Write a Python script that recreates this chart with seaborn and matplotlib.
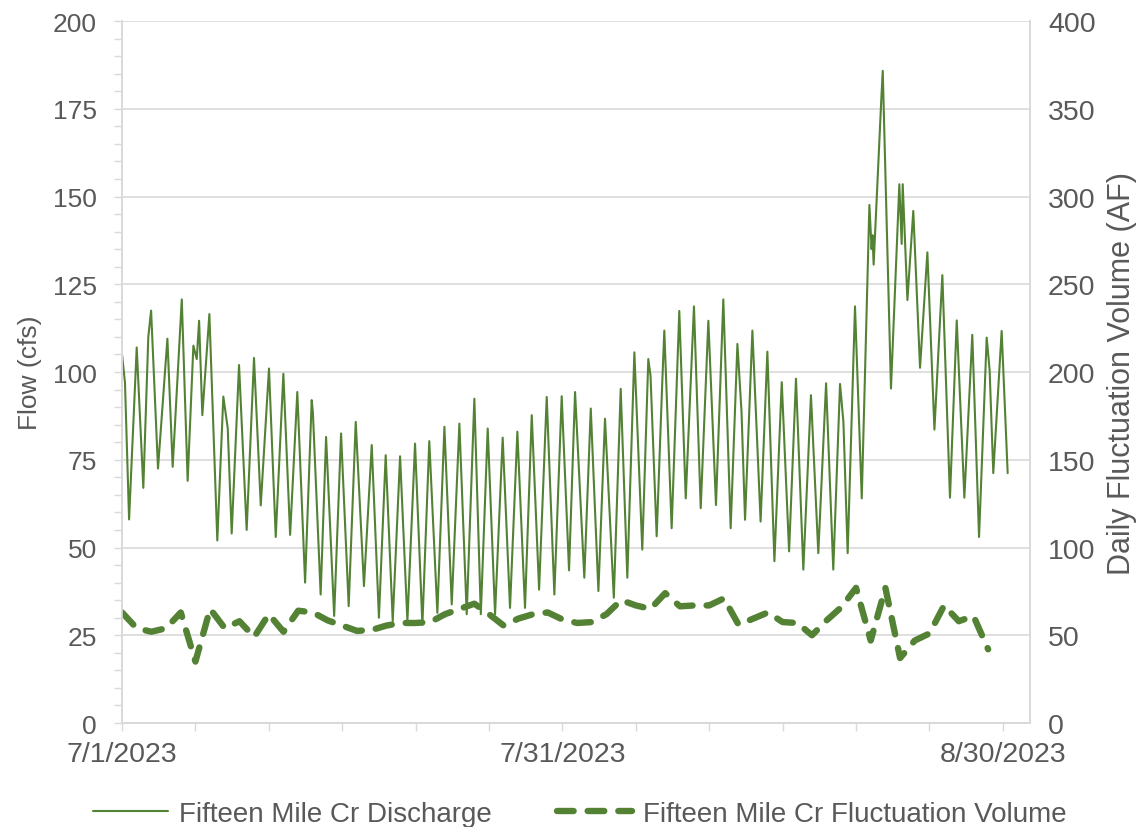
import matplotlib
matplotlib.use("Agg")
import matplotlib.pyplot as plt
import matplotlib.dates as mdates
from matplotlib.ticker import FixedLocator, MultipleLocator
import pandas as pd
import seaborn as sns

# Fifteen Mile Creek discharge: daily highs and lows (days after 7/1/2023, cfs)
flow_day = [0.0, 0.2, 0.48, 1.0, 1.45, 1.79, 1.98, 2.45, 3.09, 3.45, 4.07, 4.47,
            4.86, 5.09, 5.25, 5.47, 5.95, 6.49, 6.9, 7.2, 7.47, 7.97, 8.49, 8.99,
            9.45, 10.01, 10.47, 10.99, 11.45, 11.94, 12.47, 12.92, 13.0, 13.53,
            13.9, 14.45, 14.92, 15.44, 15.92, 16.48, 17.01, 17.5, 17.96, 18.44,
            18.94, 19.44, 19.96, 20.46, 20.93, 21.48, 21.96, 22.46, 22.98, 23.48,
            24.0, 24.44, 24.91, 25.41, 25.93, 26.43, 26.93, 27.45, 27.91, 28.41,
            28.93, 29.45, 29.95, 30.45, 30.86, 31.49, 31.93, 32.45, 32.9, 33.5,
            33.97, 34.42, 34.9, 35.44, 35.85, 36.0, 36.42, 36.8, 36.94, 37.44,
            37.96, 38.4, 38.96, 39.42, 39.94, 40.46, 40.96, 41.46, 41.92, 42.2,
            42.44, 42.94, 43.5, 43.96, 44.44, 44.94, 45.44, 45.91, 46.41, 46.93,
            47.43, 47.96, 48.45, 48.91, 49.14, 49.43, 49.93, 50.39, 50.91, 51.06,
            51.12, 51.2, 51.72, 51.82, 52.38, 52.95, 53.11, 53.18, 53.5, 53.9,
            54.36, 54.86, 55.34, 55.88, 56.4, 56.86, 57.38, 57.92, 58.38, 58.9,
            59.1, 59.35, 59.92, 60.33]
flow_cfs = [105, 97, 58, 107, 67, 110, 117.5, 72.5, 109.5, 73, 120.7, 69,
            107.5, 103.7, 114.6, 87.7, 116.5, 52, 93, 84, 54, 102, 55, 104,
            62, 101, 53, 99.5, 53.6, 94.3, 40, 92, 88.6, 36.6,
            81.5, 30.5, 82.5, 33.3, 85.8, 39, 79.2, 30, 76.3, 29,
            76, 29, 79.6, 28, 80.3, 31.4, 84.4, 33.8, 85.3, 31,
            92.4, 31, 83.9, 31, 81.3, 32.8, 83, 32.8, 87.7, 38,
            92.9, 36.6, 93.1, 43.5, 94.3, 41.4, 89.6, 37.6, 86.7, 35.7,
            95.2, 41.4, 105.6, 49.4, 103.7, 99, 53.2, 97, 111.8, 55.5,
            117.4, 64, 118.7, 61.2, 114.6, 62.1, 120.7, 55.5, 108, 88.6,
            57.9, 111.8, 57.4, 105.8, 46.1, 97.1, 48.9, 98.1, 43.7, 93.4,
            48.4, 96.8, 43.7, 96.6, 85.8, 48.4, 118.7, 64, 147.6, 135,
            139, 130.6, 177.6, 185.8, 95.3, 153.5, 136.5, 153.5, 120.5, 145.9,
            101.2, 134.1, 83.6, 127.6, 64.2, 114.7, 64.2, 110.6, 53, 109.8,
            100.6, 71.2, 111.7, 71.2]

# Daily fluctuation volume (AF), one value per day from 7/1/2023
vol_af = [63, 54, 52, 54, 63, 35, 65, 54, 58, 49,
          62, 52, 64, 63, 58.5, 55.5, 52.5, 53, 55.5, 57,
          57, 57.5, 62, 65, 68, 62, 55.5, 59.5, 62, 63,
          59, 57, 57.5, 62, 70, 67, 65, 74, 66.5, 67,
          67, 71, 56, 59.5, 63, 57.5, 57, 50, 58.5, 66,
          77, 47, 77, 37, 47, 51, 67, 58, 61, 42]

x_tick_labels = ["7/1/2023", "7/31/2023", "8/30/2023"]
flow_ticks = [0, 25, 50, 75, 100, 125, 150, 175, 200]
vol_ticks = [0, 50, 100, 150, 200, 250, 300, 350, 400]

start = pd.Timestamp("2023-07-01")
flow_df = pd.DataFrame({
    "time": start + pd.to_timedelta(flow_day, unit="D"),
    "cfs": flow_cfs,
})
vol_df = pd.DataFrame({
    "time": pd.date_range(start, periods=len(vol_af), freq="D"),
    "af": vol_af,
})

sns.set_theme(style="white")
plt.rcParams["font.family"] = ["Liberation Sans", "DejaVu Sans"]

GREEN = "#548235"
TEXT = "#595959"
GRID = "#D9D9D9"

fig = plt.figure(figsize=(11.48, 8.28), dpi=100)
ax = fig.add_axes([0.1063, 0.1256, 0.7909, 0.8478])
ax2 = ax.twinx()

sns.lineplot(data=flow_df, x="time", y="cfs", ax=ax, color=GREEN, lw=1.5,
             label="Fifteen Mile Cr Discharge", legend=False)
sns.lineplot(data=vol_df, x="time", y="af", ax=ax2, color=GREEN, lw=4.6,
             label="Fifteen Mile Cr Fluctuation Volume", legend=False)
ax2.lines[0].set_dashes([2.6, 2.2])
ax2.lines[0].set_dash_capstyle("round")
ax2.lines[0].set_solid_capstyle("round")

# x axis: labelled every 30 days, tick marks every 5 days
x_label_dates = [pd.to_datetime(s, format="%m/%d/%Y") for s in x_tick_labels]
ax.set_xlim(start, start + pd.Timedelta(days=61.85))
ax.xaxis.set_major_locator(FixedLocator(mdates.date2num(x_label_dates)))
ax.set_xticklabels(x_tick_labels)
ax.xaxis.set_minor_locator(FixedLocator(mdates.date2num(
    pd.date_range(start, periods=13, freq="5D"))))
ax.set_xlabel("")

ax.set_ylim(0, 200)
ax.set_yticks(flow_ticks)
ax.yaxis.set_minor_locator(MultipleLocator(5))
ax2.set_ylim(0, 400)
ax2.set_yticks(vol_ticks)

ax.set_ylabel("Flow (cfs)", fontsize=19, color=TEXT, labelpad=8)
ax2.set_ylabel("Daily Fluctuation Volume (AF)", fontsize=22, color=TEXT, labelpad=8)

ax.grid(axis="y", color=GRID, lw=1.2)
ax.set_axisbelow(True)

ax.tick_params(axis="y", which="both", left=True, length=6, width=1, color=GRID,
               labelsize=19, labelcolor=TEXT, pad=12)
ax.tick_params(axis="x", which="both", bottom=True, length=6, width=1, color=GRID,
               labelsize=20.5, labelcolor=TEXT, pad=7)
ax2.tick_params(axis="y", right=False, labelsize=20.5, labelcolor=TEXT, pad=7)

for a in (ax, ax2):
    for side in ("left", "bottom", "right"):
        a.spines[side].set_color(GRID)
        a.spines[side].set_linewidth(1.2)
    a.spines["top"].set_visible(False)

handles = ax.lines[:1] + ax2.lines[:1]
fig.legend(handles, [h.get_label() for h in handles], loc="lower center",
           bbox_to_anchor=(0.505, -0.03), ncol=2, frameon=False, fontsize=20,
           labelcolor=TEXT, handlelength=2.7, handletextpad=0.4, columnspacing=2.35)

fig.savefig("out.png", dpi=100)
